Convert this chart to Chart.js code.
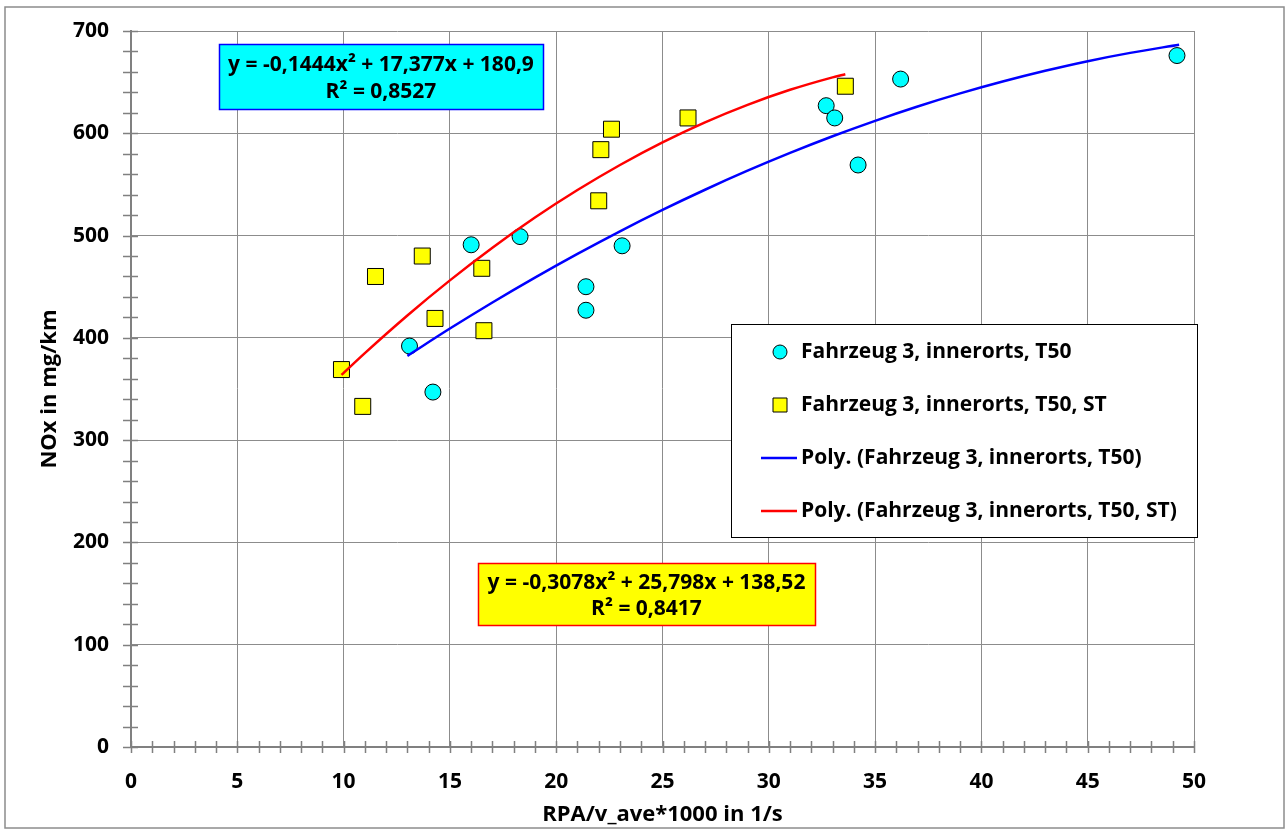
<!DOCTYPE html>
<html>
<head>
<meta charset="utf-8">
<script src="https://cdn.jsdelivr.net/npm/chart.js@4.4.1/dist/chart.umd.min.js"></script>
<style>
  html, body { margin: 0; padding: 0; background: #fff; }
  #wrap { position: relative; width: 1288px; height: 834px; }
</style>
</head>
<body>
<div id="wrap"><canvas id="myChart" width="1288" height="834"></canvas></div>
<script>
// measured points, Fahrzeug 3 innerorts T50
const t50X = [13.1, 14.2, 16.0, 18.3, 21.4, 21.4, 23.1, 32.7, 33.1, 34.2, 36.2, 49.2];
const t50Y = [392, 347, 491, 499, 450, 427, 490, 627, 615, 569, 653, 676];
// measured points, T50 ST
const stX = [9.9, 10.9, 11.5, 13.7, 14.3, 16.5, 16.6, 22.0, 22.1, 22.6, 26.2, 33.6];
const stY = [369, 333, 460, 480, 419, 468, 407, 534, 584, 604, 615, 646];
// trend lines
const blueX = [13, 15, 17, 19, 21, 23, 25, 27, 29, 31, 33, 35, 37, 39, 41, 43, 45, 47, 49.3];
const blueY = [382.4, 409.1, 434.6, 458.9, 482.1, 504.2, 525.1, 544.8, 563.4, 580.8, 597.1,
  612.2, 626.2, 639.0, 650.6, 661.1, 670.5, 678.6, 686.6];
const redX = [9.9, 11, 13, 15, 17, 19, 21, 23, 25, 27, 29, 31, 33, 33.6];
const redY = [363.8, 385.1, 421.9, 456.2, 488.1, 517.6, 544.5, 569.0, 591.1, 610.7, 627.8,
  642.5, 654.7, 657.8];

const labels = [
  'Fahrzeug 3, innerorts, T50',
  'Fahrzeug 3, innerorts, T50, ST',
  'Poly. (Fahrzeug 3, innerorts, T50)',
  'Poly. (Fahrzeug 3, innerorts, T50, ST)',
];
const eqT50 = ['y = -0,1444x\u00B2 + 17,377x + 180,9', 'R\u00B2 = 0,8527'];
const eqST = ['y = -0,3078x\u00B2 + 25,798x + 138,52', 'R\u00B2 = 0,8417'];
const xTitle = 'RPA/v_ave*1000 in 1/s';
const yTitle = 'NOx in mg/km';

const FONT = '"Open Sans", Lato, sans-serif';

function pts(xs, ys) {
  return xs.map((x, i) => ({ x: x, y: ys[i] }));
}

const data = {
  datasets: [
    {
      label: labels[0],
      data: pts(t50X, t50Y),
      showLine: false,
      pointStyle: 'circle',
      pointRadius: 8,
      pointBackgroundColor: '#00ffff',
      pointBorderColor: '#000',
      pointBorderWidth: 1,
      order: 1,
    },
    {
      label: labels[1],
      data: pts(stX, stY),
      showLine: false,
      pointStyle: 'rect',
      pointRadius: 11.3,
      pointBackgroundColor: '#ffff00',
      pointBorderColor: '#000',
      pointBorderWidth: 1,
      order: 1,
    },
    {
      label: labels[2],
      data: pts(blueX, blueY),
      showLine: true,
      borderColor: '#0000ff',
      borderWidth: 2.5,
      pointRadius: 0,
      cubicInterpolationMode: 'monotone',
      order: 0,
    },
    {
      label: labels[3],
      data: pts(redX, redY),
      showLine: true,
      borderColor: '#ff0000',
      borderWidth: 2.5,
      pointRadius: 0,
      cubicInterpolationMode: 'monotone',
      order: 0,
    },
  ],
};

function eqBox(ctx, lines, x, y, w, h, fill, stroke) {
  ctx.save();
  ctx.fillStyle = fill;
  ctx.fillRect(x, y, w, h);
  ctx.strokeStyle = stroke;
  ctx.lineWidth = 1.5;
  ctx.strokeRect(x + 0.5, y + 0.5, w, h);
  ctx.fillStyle = '#000';
  ctx.font = 'bold 21px ' + FONT;
  ctx.textAlign = 'center';
  ctx.textBaseline = 'middle';
  ctx.fillText(lines[0], x + w / 2, y + h * 0.32);
  ctx.fillText(lines[1], x + w / 2, y + h * 0.74);
  ctx.restore();
}

const extras = {
  id: 'extras',
  beforeDraw(chart) {
    const ctx = chart.ctx;
    ctx.save();
    ctx.fillStyle = '#fff';
    ctx.fillRect(0, 0, chart.width, chart.height);
    ctx.strokeStyle = '#8c8c8c';
    ctx.lineWidth = 1.5;
    ctx.strokeRect(5, 7, 1279, 821);
    ctx.restore();
  },
  afterDraw(chart) {
    const ctx = chart.ctx;
    const xs = chart.scales.x, ys = chart.scales.y;
    const a = chart.chartArea;
    ctx.save();
    // minor tick marks crossing the axes
    ctx.strokeStyle = '#808080';
    ctx.lineWidth = 1.5;
    ctx.beginPath();
    for (let v = 0; v <= 700; v += 20) {
      const py = Math.round(ys.getPixelForValue(v)) + 0.5;
      ctx.moveTo(a.left - 8, py);
      ctx.lineTo(a.left + 7, py);
    }
    for (let v = 0; v <= 50; v += 1) {
      const px = Math.round(xs.getPixelForValue(v)) + 0.5;
      ctx.moveTo(px, a.bottom - 6);
      ctx.lineTo(px, a.bottom + 6);
    }
    ctx.stroke();

    // axis titles
    ctx.fillStyle = '#000';
    ctx.font = 'bold 22px ' + FONT;
    ctx.textAlign = 'center';
    ctx.textBaseline = 'middle';
    ctx.fillText(xTitle, (a.left + a.right) / 2, 815);
    ctx.save();
    ctx.translate(50, (a.top + a.bottom) / 2);
    ctx.rotate(-Math.PI / 2);
    ctx.fillText(yTitle, 0, 0);
    ctx.restore();

    // trend line equations
    eqBox(ctx, eqT50, 219, 44, 324, 65, '#00ffff', '#0000ff');
    eqBox(ctx, eqST, 478, 563, 337, 62, '#ffff00', '#ff0000');

    // legend
    const lx = 731, ly = 324, lw = 466, lh = 213;
    ctx.fillStyle = '#fff';
    ctx.fillRect(lx, ly, lw, lh);
    ctx.strokeStyle = '#000';
    ctx.lineWidth = 1;
    ctx.strokeRect(lx + 0.5, ly + 0.5, lw, lh);
    const rowY = [352, 405, 458, 511];
    chart.data.datasets.forEach((ds, i) => {
      const cy = rowY[i];
      if (ds.showLine) {
        ctx.strokeStyle = ds.borderColor;
        ctx.lineWidth = 2.5;
        ctx.beginPath();
        ctx.moveTo(761, cy);
        ctx.lineTo(797, cy);
        ctx.stroke();
      } else {
        ctx.fillStyle = ds.pointBackgroundColor;
        ctx.strokeStyle = '#000';
        ctx.lineWidth = 1;
        ctx.beginPath();
        if (ds.pointStyle === 'circle') {
          ctx.arc(780, cy, 7, 0, Math.PI * 2);
        } else {
          ctx.rect(773, cy - 7, 14, 14);
        }
        ctx.fill();
        ctx.stroke();
      }
      ctx.fillStyle = '#000';
      ctx.font = 'bold 21px ' + FONT;
      ctx.textAlign = 'left';
      ctx.textBaseline = 'middle';
      ctx.fillText(ds.label, 801, cy);
    });
    ctx.restore();
  },
};

const config = {
  type: 'scatter',
  data: data,
  options: {
    responsive: false,
    animation: false,
    layout: { autoPadding: false, padding: { left: 0, top: 31, right: 94, bottom: 0 } },
    plugins: {
      legend: { display: false },
      tooltip: { enabled: false },
    },
    scales: {
      x: {
        type: 'linear',
        min: 0,
        max: 50,
        afterFit(scale) { scale.height = 87; },
        ticks: {
          stepSize: 5,
          padding: 22,
          color: '#000',
          font: { family: FONT, size: 21, weight: 'bold' },
        },
        grid: { color: '#8c8c8c', lineWidth: 1, drawTicks: false },
        border: { display: true, color: '#808080', width: 2 },
      },
      y: {
        type: 'linear',
        min: 0,
        max: 700,
        afterFit(scale) { scale.width = 131; },
        ticks: {
          stepSize: 100,
          padding: 22,
          color: '#000',
          // small lineHeight keeps the label padding from pushing the plot top down
          font: { family: FONT, size: 21, weight: 'bold', lineHeight: 0.5 },
        },
        grid: { color: '#8c8c8c', lineWidth: 1, drawTicks: false },
        border: { display: true, color: '#808080', width: 2 },
      },
    },
  },
  plugins: [extras],
};

const myChart = new Chart(document.getElementById('myChart').getContext('2d'), config);
</script>
</body>
</html>
